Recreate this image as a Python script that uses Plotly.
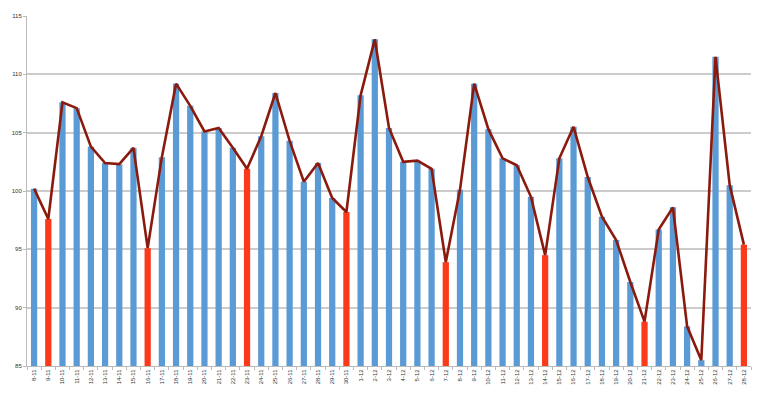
import plotly.graph_objects as go

dates = ["8-11","9-11","10-11","11-11","12-11","13-11","14-11","15-11","16-11","17-11",
         "18-11","19-11","20-11","21-11","22-11","23-11","24-11","25-11","26-11","27-11",
         "28-11","29-11","30-11",
         "1-12","2-12","3-12","4-12","5-12","6-12","7-12","8-12","9-12","10-12",
         "11-12","12-12","13-12","14-12","15-12","16-12","17-12","18-12","19-12","20-12",
         "21-12","22-12","23-12","24-12","25-12","26-12","27-12","28-12"]
values = [100.2, 97.6, 107.6, 107.1, 103.8, 102.4, 102.3, 103.7, 95.1, 102.9,
          109.2, 107.3, 105.1, 105.4, 103.7, 101.9, 104.7, 108.4, 104.3, 100.8,
          102.4, 99.4, 98.2,
          108.2, 113.0, 105.4, 102.5, 102.6, 101.9, 93.9, 100.1, 109.2, 105.3,
          102.8, 102.2, 99.5, 94.5, 102.8, 105.5, 101.2, 97.8, 95.8, 92.2,
          88.8, 96.7, 98.6, 88.4, 85.5, 111.5, 100.5, 95.4]
sundays = ["9-11","16-11","23-11","30-11","7-12","14-12","21-12","28-12"]
y_ticks = [85, 90, 95, 100, 105, 110, 115]
y_base = 85

BLUE = "#5b9bd5"
RED = "#fb3a1c"
LINE = "#8b1a0e"
bar_colors = [RED if d in sundays else BLUE for d in dates]

fig = go.Figure()
fig.add_trace(go.Bar(x=dates, y=[v - y_base for v in values], base=y_base,
                     marker=dict(color=bar_colors, line=dict(width=0)), showlegend=False))
fig.add_trace(go.Scatter(x=dates, y=values, mode="lines",
                         line=dict(color=LINE, width=2.6), showlegend=False))

# page body has an 8px default margin; margins below compensate for it
fig.update_layout(
    width=765, height=393,
    margin=dict(l=19, r=22, t=8, b=35, autoexpand=False),
    paper_bgcolor="#ffffff", plot_bgcolor="#ffffff",
    bargap=0.56,
    font=dict(family="Liberation Sans, Arial, sans-serif", color="#333333"),
    xaxis=dict(type="category", tickangle=-90, tickfont=dict(size=6, color="#333333"),
               showgrid=False, showline=True, linecolor="#bbbbbb", linewidth=1,
               ticks="outside", tickson="boundaries", ticklen=3, tickcolor="#bbbbbb",
               range=[-0.5, len(dates) - 0.5], automargin=False),
    yaxis=dict(range=[85, 115], tickvals=y_ticks,
               tickfont=dict(size=6, color="#333333"),
               showgrid=True, gridcolor="#cccccc", gridwidth=1.5,
               showline=True, linecolor="#bbbbbb", linewidth=1,
               ticks="outside", ticklen=3, tickcolor="#bbbbbb", zeroline=False,
               automargin=False),
)

fig.write_html("out.html")
